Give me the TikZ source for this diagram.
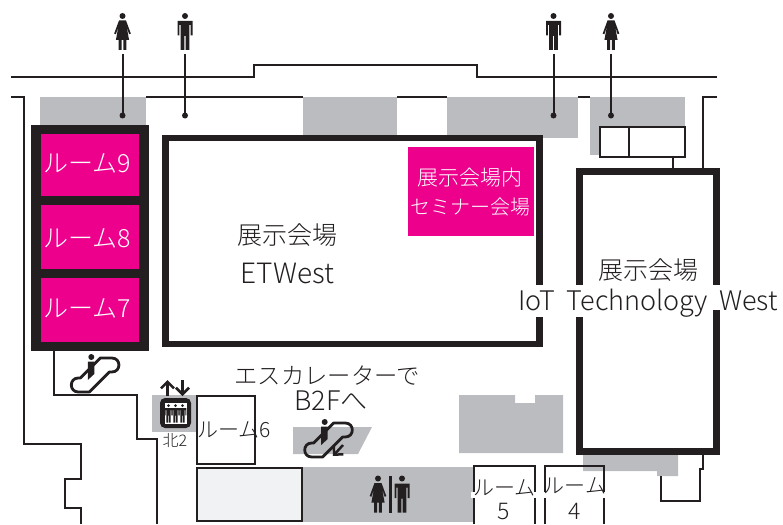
\documentclass[tikz,border=0pt]{standalone}
\usepackage{fontspec}
\setmainfont{Liberation Sans}
\newfontfamily\jp{Noto Sans CJK JP Light}
\usetikzlibrary{arrows.meta}
\definecolor{ink}{HTML}{231F20}
\definecolor{wallgray}{HTML}{BBBCBF}
\definecolor{paleg}{HTML}{F1F2F3}
\definecolor{mag}{HTML}{EC008C}
\tikzset{
  wall/.style={draw=ink,line width=2pt,line join=miter},
  thinwall/.style={draw=ink,line width=2pt},
  hall/.style={draw=ink,line width=6.7pt},
  zone/.style={fill=wallgray,draw=none},
  magbox/.style={fill=mag,draw=none},
  lead/.style={draw=ink,line width=2pt},
  dotmark/.style={fill=ink,draw=none},
  label/.style={text=ink,inner sep=0pt,align=center,font=\fontsize{24}{28}\selectfont},
  wlabel/.style={text=white,inner sep=0pt,align=center,font=\jp\fontsize{25}{28}\selectfont},
  smalllabel/.style={text=ink,inner sep=0pt,align=center,font=\fontsize{21}{25}\selectfont},
  barb/.style={draw=ink,line width=2.5pt,-{Straight Barb[length=6.5pt,width=13pt]}},
  man/.pic={
    \fill[ink] (0,0) circle (3);
    \fill[ink] (-7.5,5) -- (7.5,5) -- (7.5,19.5) -- (5.6,19.5) -- (5.6,9) -- (4.4,9) -- (4.4,34) -- (0.6,34) -- (0.6,20) -- (-0.6,20) -- (-0.6,34) -- (-4.4,34) -- (-4.4,9) -- (-5.6,9) -- (-5.6,19.5) -- (-7.5,19.5) -- cycle;
  },
  woman/.pic={
    \fill[ink] (0,0) circle (3);
    \fill[ink] (-3.5,4.5) -- (3.5,4.5) -- (8.3,17.5) -- (6.6,18.3) -- (4,10) -- (6.6,24) -- (3.8,24) -- (3.8,34) -- (0.8,34) -- (0.8,24) -- (-0.8,24) -- (-0.8,34) -- (-3.8,34) -- (-3.8,24) -- (-6.6,24) -- (-4,10) -- (-6.6,18.3) -- (-8.3,17.5) -- cycle;
  },
  escal/.pic={
    \fill[ink] (13,-28) circle (3);
    \fill[ink] (9.5,-23.5) -- (16,-23.5) -- (16,-11) -- (9.5,-5) -- cycle;
    \draw[ink,line width=2.8pt,line join=round] (2,-7) -- (22,-27) -- (33.5,-27) .. controls (43,-27) and (43,-13) .. (33.5,-13) -- (31,-13) -- (11,7) -- (0,7) .. controls (-9.3,7) and (-9.3,-7) .. (0,-7) -- cycle;
  },
}
\begin{document}
\begin{tikzpicture}[x=1pt,y=-1pt]
\useasboundingbox (0,0) rectangle (783,524);
% grey zones
\fill[zone] (40,97) rectangle (146,125);
\fill[zone] (303,97) rectangle (397,135);
\fill[zone] (447,97) rectangle (578,138);
\fill[zone] (590,97) rectangle (685,155);
\fill[zone] (152,395) rectangle (196,432);
\fill[zone] (293,427) -- (372,427) -- (358,454) -- (293,454) -- cycle;
\fill[zone] (459,395) -- (515,395) -- (515,403) -- (535,403) -- (535,395) -- (563,395) -- (563,453) -- (459,453) -- cycle;
\fill[zone] (302,467) rectangle (474,522);
\fill[zone] (583,455) -- (678,455) -- (678,476) -- (657,476) -- (657,471) -- (583,471) -- cycle;
% outer walls
\draw[wall] (11,77.5) -- (254,77.5) -- (254,65.5) -- (477,65.5) -- (477,77.5) -- (717,77.5);
\draw[wall] (11,97.5) -- (23.5,97.5) -- (23.5,444) -- (81,444) -- (81,479) -- (65,479) -- (65,508) -- (81,508) -- (81,524);
\draw[wall] (146,97.5) -- (303,97.5);
\draw[wall] (397,97.5) -- (447,97.5);
\draw[wall] (578,97.5) -- (590,97.5);
\draw[wall] (717,97.5) -- (703,97.5) -- (703,168);
\draw[wall] (53.5,351) -- (53.5,394.5) -- (137,394.5) -- (137,438.5) -- (156.5,438.5) -- (156.5,524);
\draw[wall] (661,476) -- (661,501) -- (700,501) -- (700,469) -- (703,469) -- (703,455);
% box by hall
\draw[thinwall,fill=white] (600,126.5) rectangle (685,157);
\draw[thinwall] (628.5,126.5) -- (628.5,157);
\draw[thinwall] (672.5,157) -- (672.5,168);
% left rooms
\fill[ink] (31,124.5) rectangle (148.5,351);
\fill[magbox] (40.5,134) rectangle (139,195.7);
\fill[magbox] (40.5,205) rectangle (139,268.7);
\fill[magbox] (40.5,278) rectangle (139,341.7);
\node[wlabel] (r9) at (87,163) {ルーム9};
\node[wlabel] (r8) at (87,238) {ルーム8};
\node[wlabel] (r7) at (87,308) {ルーム7};
% halls
\draw[hall] (165.7,138) rectangle (539.5,344);
\draw[hall] (579.5,171.5) rectangle (716.3,451.5);
\fill[magbox] (408,147) rectangle (534,236);
\node[wlabel,font=\jp\fontsize{21}{29}\selectfont] (sem) at (470,192) {展示会場内\\{\fontsize{20}{29}\selectfont セミナー会場}};
\node[label,font=\jp\fontsize{25}{28}\selectfont] (et1) at (287,235) {展示会場};
\node[label,font=\jp\fontsize{28}{28}\selectfont] (et2) at (287.5,273) {ETWest};
\fill[white] (534,285) rectangle (545,317);
\fill[white] (575,285) rectangle (586,317);
\fill[white] (711,285) rectangle (722,310);
\node[label,font=\jp\fontsize{25}{28}\selectfont] (iot1) at (648,270) {展示会場};
\node[label,font=\jp\fontsize{27}{28}\selectfont] (iot2) at (648,303) {IoT\hspace{5pt} Technology\hspace{5pt} West};
% restroom icons and leads
\path (122.5,16) pic {woman};
\path (185,16) pic {man};
\path (553.5,16) pic {man};
\path (611,16) pic {woman};
\draw[lead] (122.5,54) -- (122.5,115.5);
\draw[lead] (185,54) -- (185,115.5);
\draw[lead] (553.5,54) -- (553.5,115.5);
\draw[lead] (611,54) -- (611,115.5);
\foreach \px/\py in {122.5/115.5,185/115.5,553.5/115.5,611/115.5} \fill[dotmark] (\px,\py) circle (3);
% escalators
\path (78.3,385) pic {escal};
\path (311.7,450) pic {escal};
\draw[barb] (343,445) -- (333,456);
\node[label,font=\jp\fontsize{23.3}{28}\selectfont] (esc) at (327,376) {エスカレーターで};
\node[label,font=\jp\fontsize{27}{28}\selectfont] (b2f) at (331,401) {B2Fへ};
% elevator
\draw[barb] (167.5,396) -- (167.5,380);
\draw[barb] (182.5,380) -- (182.5,396);
\fill[ink,rounded corners=5pt] (160,398) rectangle (191,428);
\fill[white] (164.5,402.5) rectangle (186.5,423.5);
\foreach \ex in {168.5,175.5,182.5} \path (\ex,405.5) pic[scale=.5] {man};
\node[label,font=\jp\fontsize{16}{18}\selectfont] (n2) at (175,441) {北2};
% room 6
\draw[thinwall,fill=white] (196.5,395.5) rectangle (254.5,464);
\node[smalllabel,font=\jp\fontsize{21}{25}\selectfont] (r6) at (234,430) {ルーム6};
% lower boxes
\draw[thinwall,fill=paleg] (196.5,467.5) rectangle (302,521);
\draw[thinwall] (474,524) -- (474,465.5) -- (534.5,465.5) -- (534.5,524);
\draw[thinwall] (544.5,524) -- (544.5,465.5) -- (604,465.5) -- (604,524);
\fill[white] (471,492) rectangle (477,498);
\fill[white] (532,492) rectangle (537,498);
\fill[white] (542,492) rectangle (547,498);
\fill[white] (601.5,492) rectangle (606.5,498);
\node[smalllabel,font=\jp\fontsize{21}{25}\selectfont] (r5) at (504.5,488) {ルーム};
\node[smalllabel,font=\jp\fontsize{23}{25}\selectfont] (r5n) at (504,511.5) {5};
\node[smalllabel,font=\jp\fontsize{21}{25}\selectfont] (r4) at (575,486) {ルーム};
\node[smalllabel,font=\jp\fontsize{23}{25}\selectfont] (r4n) at (575,511.5) {4};
% restroom in gallery
\path (378,478.5) pic {woman};
\path (402,478.5) pic {man};
\draw[ink,line width=2.8pt] (390.7,476) -- (390.7,513);
\end{tikzpicture}
\end{document}
